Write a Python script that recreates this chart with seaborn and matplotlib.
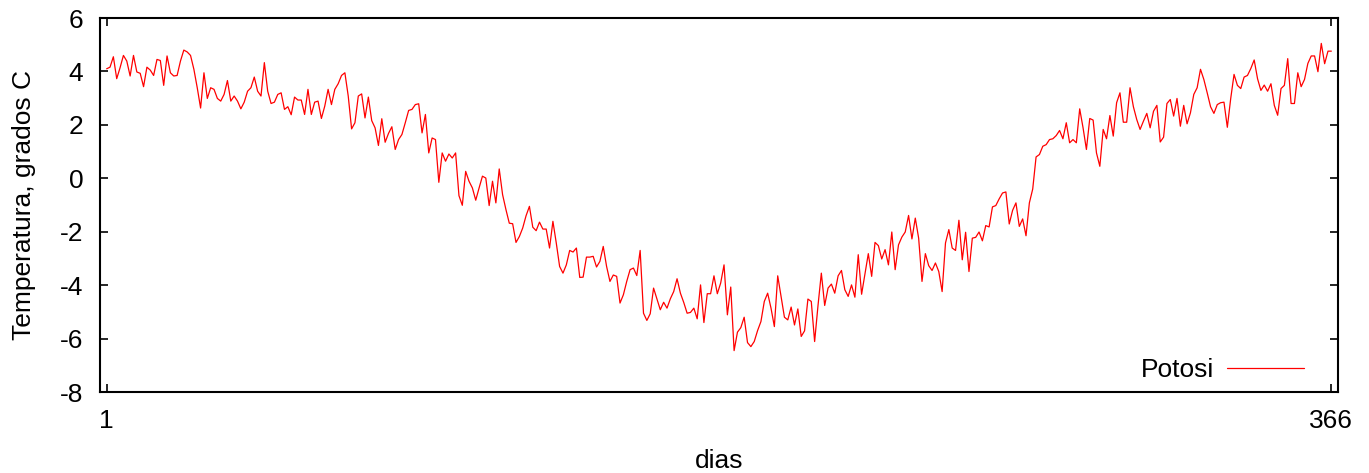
import numpy as np
import matplotlib
matplotlib.use("Agg")
import matplotlib.pyplot as plt
import seaborn as sns

# temperatura media diaria, Potosi
temperatura = [
    4.10, 4.16, 4.55, 3.73, 4.14, 4.60, 4.39, 3.83, 4.60, 3.98,
    3.93, 3.43, 4.16, 4.05, 3.85, 4.45, 4.41, 3.48, 4.58, 3.95,
    3.83, 3.85, 4.39, 4.80, 4.73, 4.60, 4.08, 3.39, 2.63, 3.95,
    2.99, 3.39, 3.33, 2.99, 2.89, 3.14, 3.66, 2.89, 3.08, 2.89,
    2.60, 2.85, 3.26, 3.39, 3.79, 3.26, 3.08, 4.33, 3.26, 2.80,
    2.85, 3.14, 3.20, 2.58, 2.68, 2.38, 3.04, 2.93, 2.93, 2.39,
    3.33, 2.39, 2.85, 2.89, 2.24, 2.70, 3.33, 2.76, 3.33, 3.54,
    3.85, 3.95, 3.08, 1.85, 2.08, 3.08, 3.16, 2.26, 3.04, 2.16,
    1.89, 1.23, 2.23, 1.35, 1.68, 1.93, 1.08, 1.45, 1.64, 2.08,
    2.54, 2.58, 2.76, 2.79, 1.70, 2.39, 0.95, 1.51, 1.45, -0.15,
    0.95, 0.64, 0.91, 0.76, 0.95, -0.65, -1.01, 0.26, -0.11, -0.36,
    -0.82, -0.36, 0.08, 0.01, -1.02, -0.11, -0.92, 0.35, -0.61, -1.17,
    -1.68, -1.70, -2.40, -2.18, -1.86, -1.40, -1.05, -1.83, -1.96, -1.64,
    -1.90, -1.90, -2.61, -1.61, -2.42, -3.30, -3.55, -3.24, -2.70, -2.76,
    -2.61, -3.71, -3.70, -2.95, -2.95, -2.92, -3.32, -3.11, -2.55, -3.30,
    -3.86, -3.62, -3.67, -4.67, -4.36, -3.86, -3.42, -3.36, -3.64, -2.70,
    -5.05, -5.32, -5.07, -4.11, -4.51, -4.92, -4.64, -4.86, -4.51, -4.24,
    -3.76, -4.30, -4.65, -5.05, -5.02, -4.86, -5.26, -3.99, -5.40, -4.32,
    -4.32, -3.65, -4.32, -3.92, -3.24, -5.11, -4.07, -6.45, -5.76, -5.59,
    -5.20, -6.15, -6.30, -6.11, -5.70, -5.36, -4.61, -4.30, -4.86, -5.55,
    -3.65, -4.42, -5.20, -5.30, -4.82, -5.49, -4.89, -5.92, -5.71, -4.52,
    -4.61, -6.11, -4.77, -3.55, -4.76, -4.11, -3.96, -4.30, -3.65, -3.45,
    -4.17, -4.42, -3.99, -4.45, -2.86, -4.34, -3.57, -2.82, -3.67, -2.40,
    -2.52, -3.02, -2.67, -3.24, -2.01, -3.42, -2.49, -2.20, -2.01, -1.39,
    -2.27, -1.49, -2.24, -3.86, -2.82, -3.27, -3.45, -3.17, -3.49, -4.24,
    -2.42, -1.92, -2.61, -2.70, -1.57, -3.05, -2.02, -3.49, -2.24, -2.21,
    -2.01, -2.34, -1.77, -1.82, -1.07, -1.02, -0.77, -0.55, -0.51, -1.71,
    -1.20, -0.92, -1.80, -1.52, -2.15, -0.92, -0.40, 0.80, 0.89, 1.20,
    1.26, 1.45, 1.48, 1.60, 1.79, 1.48, 2.08, 1.33, 1.45, 1.33,
    2.60, 1.89, 1.08, 2.24, 2.18, 0.95, 0.45, 1.83, 1.48, 2.35,
    1.58, 2.83, 3.20, 2.10, 2.10, 3.39, 2.68, 2.20, 1.83, 2.14,
    2.43, 1.89, 2.51, 2.73, 1.36, 1.54, 2.80, 2.95, 2.33, 2.99,
    1.95, 2.73, 2.04, 2.45, 3.14, 3.39, 4.08, 3.70, 3.20, 2.68,
    2.43, 2.76, 2.83, 2.85, 1.91, 2.98, 3.89, 3.48, 3.36, 3.79,
    3.85, 4.11, 4.43, 3.73, 3.29, 3.49, 3.26, 3.54, 2.73, 2.36,
    3.36, 3.48, 4.48, 2.80, 2.80, 3.95, 3.43, 3.70, 4.30, 4.58,
    4.58, 3.99, 5.05, 4.29, 4.76, 4.76,
]
dias = np.arange(1, len(temperatura) + 1)
x_ticks = [1, 366]
y_ticks = [-8, -6, -4, -2, 0, 2, 4, 6]

sns.set_style("ticks")
plt.rcParams['font.family'] = ['Liberation Sans', 'DejaVu Sans']
plt.rcParams['font.size'] = 19
plt.rcParams['axes.unicode_minus'] = False
plt.rcParams['text.color'] = 'black'
plt.rcParams['axes.labelcolor'] = 'black'

fig, ax = plt.subplots(figsize=(13.69, 4.73), dpi=100)
fig.subplots_adjust(left=0.073, right=0.9774, top=0.9619, bottom=0.1712)

sns.lineplot(x=dias, y=temperatura, color='red', linewidth=0.9, label='Potosi', ax=ax)

ax.set_xlim(-1, 368)
ax.set_ylim(-8, 6)
ax.set_xticks(x_ticks)
ax.set_yticks(y_ticks)
ax.tick_params(direction='in', length=6, width=1.2, top=True, right=True, pad=12,
               labelsize=19, colors='black', labelcolor='black')
for s in ax.spines.values():
    s.set_visible(True)
    s.set_linewidth(1.5)
    s.set_color('black')

ax.set_xlabel('dias', fontsize=19, labelpad=12, color='black')
ax.set_ylabel('Temperatura, grados C', fontsize=19, labelpad=17, color='black')

leg = ax.legend(loc='lower right', frameon=False, markerfirst=False, handlelength=2.9,
                fontsize=19, bbox_to_anchor=(0.985, -0.015), borderaxespad=0.2,
                handletextpad=0.5)
for t in leg.get_texts():
    t.set_color('black')

fig.savefig('out.png', dpi=100)
